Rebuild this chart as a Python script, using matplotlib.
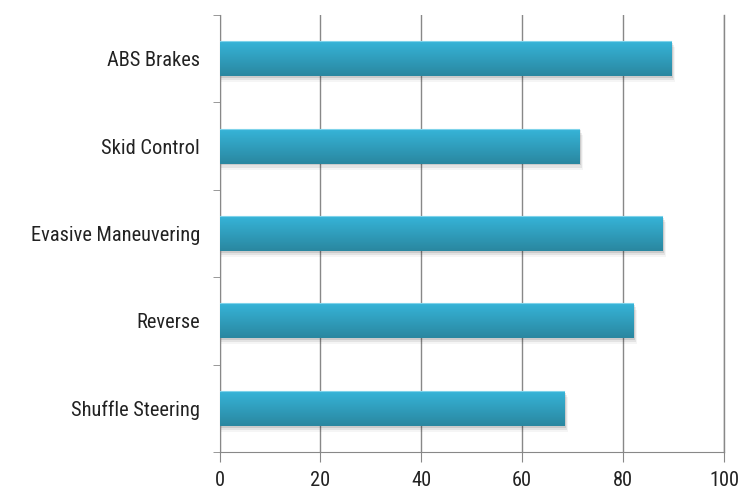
import numpy as np
from matplotlib import pyplot as plt
from matplotlib import font_manager as fm
from matplotlib.colors import LinearSegmentedColormap

# Chart data
skills = ['Shuffle Steering', 'Reverse', 'Evasive Maneuvering', 'Skid Control', 'ABS Brakes']
scores = [68.3, 82.0, 87.7, 71.3, 89.4]
x_ticks = [0, 20, 40, 60, 80, 100]

# Pick a narrow-ish font if one is around
names = {f.name for f in fm.fontManager.ttflist}
family = 'DejaVu Sans'
for cand in ['Roboto Condensed', 'Liberation Sans Narrow', 'Lato']:
	if cand in names:
		family = cand
		break
plt.rcParams['font.family'] = [family, 'DejaVu Sans']

fig = plt.figure(figsize=(7.42, 4.91), dpi=100)
ax = fig.add_axes([219.5/742, 1 - 452/491, (724 - 219.5)/742, (452 - 15)/491])

bar_h = 0.40
grad = LinearSegmentedColormap.from_list('bar', ['#2a87a0', '#36b4d8'])
shade = np.linspace(0, 1, 64)[:, None]

for i, val in enumerate(scores):
	# soft shadow under the bar
	for k, a in enumerate([0.10, 0.07, 0.04]):
		off = 0.02 + k * 0.025
		ax.fill_between([0, val + 0.4 + k * 0.2], i - bar_h/2 - off, i + bar_h/2 - off,
						color='#000000', alpha=a, lw=0, zorder=2)
	ax.imshow(shade, cmap=grad, aspect='auto', origin='lower',
			  extent=[0, val, i - bar_h/2, i + bar_h/2], zorder=3)
	ax.plot([0, val], [i + bar_h/2, i + bar_h/2], color='#7fd3ea', lw=0.8, zorder=4)

ax.set_xlim(0, 100)
ax.set_ylim(-0.5, len(skills) - 0.5)

ax.set_xticks(x_ticks)
ax.set_xticklabels([str(t) for t in x_ticks], fontsize=14.7, color='#222222')
ax.set_yticks(range(len(skills)))
ax.set_yticklabels(skills, fontsize=14.7, color='#222222')
ax.set_yticks(np.arange(-0.5, len(skills)), minor=True)

ax.tick_params(axis='y', which='major', length=0, pad=14)
ax.tick_params(axis='y', which='minor', length=5, color='#888888', direction='out')
ax.tick_params(axis='x', length=7, color='#888888', pad=6.5)

ax.grid(axis='x', color='#888888', lw=1, zorder=1)
ax.axvline(100, color='#888888', lw=1, zorder=1, clip_on=False)
for s in ['top', 'right']:
	ax.spines[s].set_visible(False)
for s in ['left', 'bottom']:
	ax.spines[s].set_color('#888888')

fig.savefig('out.png', dpi=100)
